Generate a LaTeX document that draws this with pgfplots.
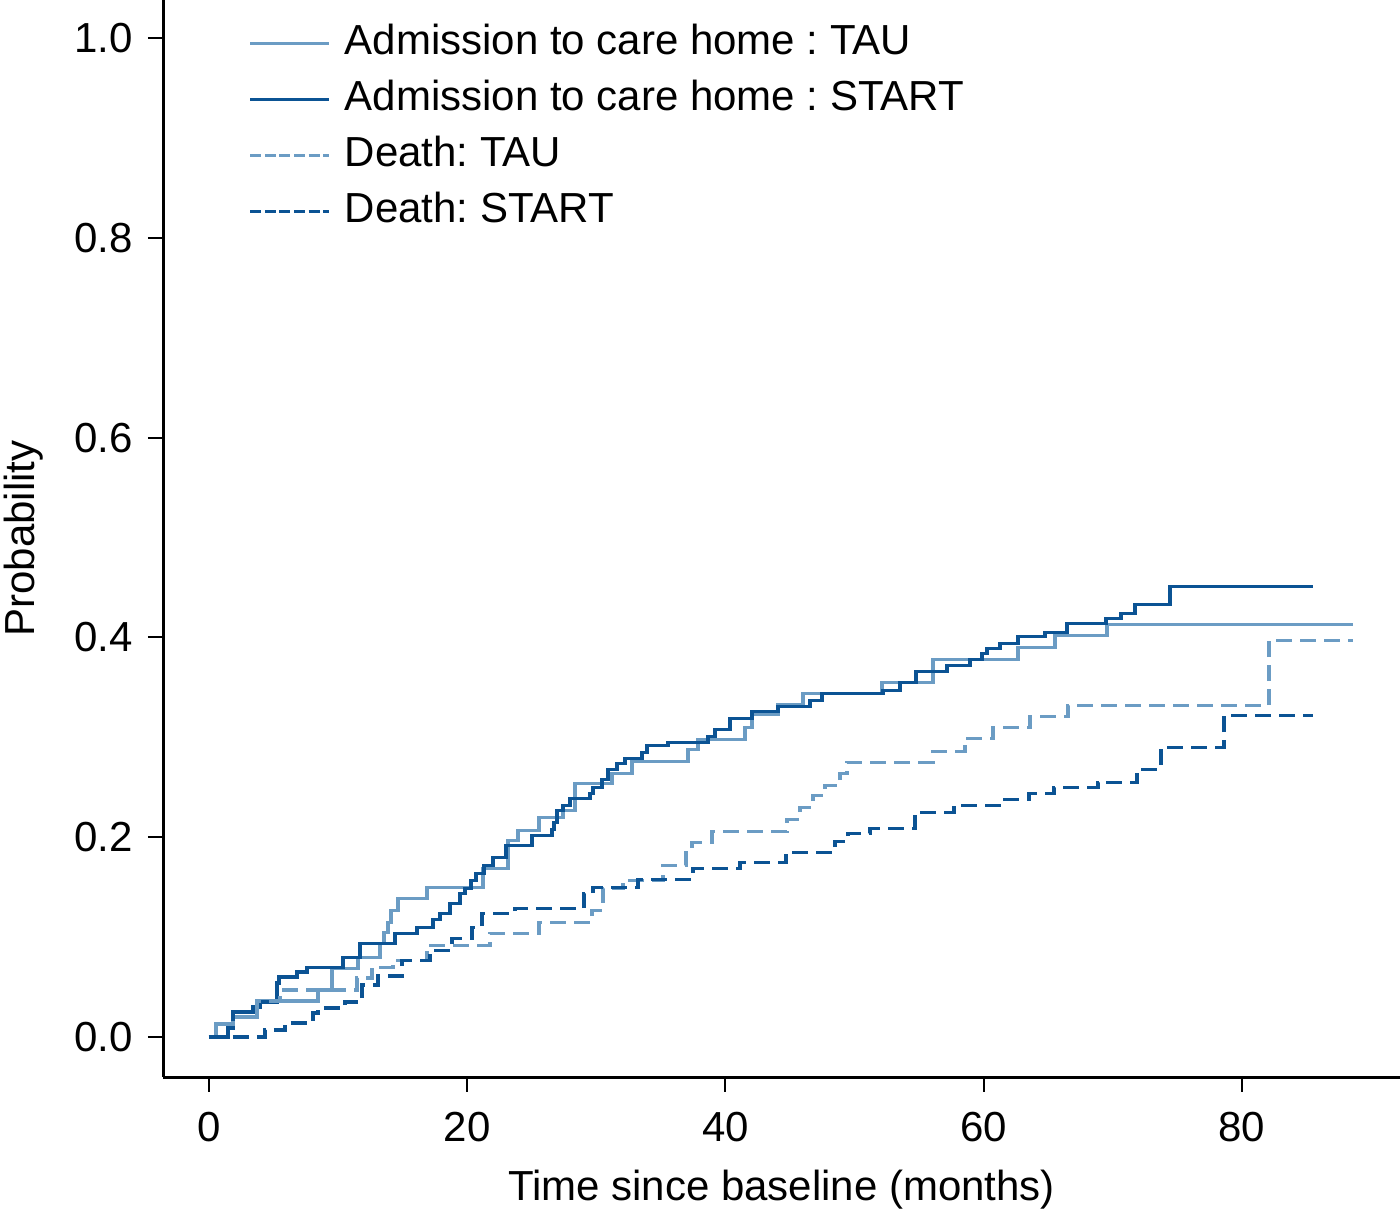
\documentclass[border=0pt]{standalone}
\usepackage{fontspec}
\setmainfont{Liberation Sans}
\usepackage{pgfplots}
\pgfplotsset{compat=1.18}
\definecolor{lightb}{RGB}{107,156,196}
\definecolor{darkb}{RGB}{11,83,148}
\newcommand{\ff}{\fontsize{21pt}{25pt}\selectfont}
\frenchspacing
\begin{document}
\begin{tikzpicture}
\begin{axis}[
  at={(0,0)}, anchor=south west,
  scale only axis,
  width=618.5pt, height=538.5pt,
  xmin=-3.56, xmax=92.24,
  ymin=-0.040, ymax=1.038,
  axis x line*=bottom, axis y line*=left,
  axis line style={line width=1.5pt, black},
  tick pos=left, tick align=outside,
  major tick length=7.5pt,
  tick style={line width=1pt, black},
  xtick={0,20,40,60,80},
  ytick={0,0.2,0.4,0.6,0.8,1.0},
  /pgf/number format/assume math mode=true,
  yticklabel style={/pgf/number format/fixed, /pgf/number format/fixed zerofill, /pgf/number format/precision=1, xshift=-3.5pt},
  xticklabel style={yshift=-6pt},
  tick label style={font=\ff},
  xlabel={Time since baseline (months)},
  ylabel={Probability},
  every axis x label/.style={at={(axis description cs:0.5,0)}, anchor=base, yshift=-61.5pt, font=\ff},
  every axis y label/.style={at={(axis description cs:0,0.5)}, xshift=-59pt, rotate=90, anchor=south, inner sep=0pt, font=\ff},
  legend style={at={(axis description cs:0,1)}, anchor=north west, xshift=42pt, yshift=-11.5pt,
    draw=none, fill=none, inner sep=0pt, font=\ff, row sep=9pt,
    nodes={inner sep=0pt, text height=15pt, text depth=4pt},
    /tikz/every odd column/.append style={column sep=7pt}},
  legend cell align=left,
  legend image code/.code={\draw[#1] (0pt,0pt) -- (39.5pt,0pt);},
  line width=1.6pt,
]
\addplot[const plot, lightb, solid] coordinates {(0,0)(0.54,0.013)(1.86,0.020)(3.72,0.036)(8.44,0.047)(9.53,0.069)(11.54,0.080)(13.24,0.094)(13.55,0.105)(13.86,0.115)(14.09,0.127)(14.64,0.139)(16.88,0.150)(21.22,0.169)(23.16,0.197)(23.93,0.207)(25.56,0.220)(27.42,0.227)(28.34,0.254)(31.21,0.264)(32.76,0.276)(37.10,0.288)(37.87,0.298)(41.51,0.310)(42.05,0.323)(44.07,0.333)(46.00,0.344)(52.12,0.355)(56.07,0.378)(62.65,0.390)(65.52,0.402)(69.54,0.413)(88.60,0.413)};
\addlegendentry{Admission to care home : TAU}
\addplot[const plot, darkb, solid] coordinates {(0,0)(1.47,0.009)(1.86,0.025)(3.41,0.030)(3.95,0.035)(5.27,0.054)(5.42,0.060)(6.81,0.065)(7.59,0.070)(10.38,0.080)(11.69,0.094)(14.40,0.104)(16.11,0.110)(17.35,0.118)(17.89,0.124)(18.66,0.134)(19.44,0.144)(19.83,0.149)(20.29,0.157)(20.68,0.164)(21.30,0.172)(21.99,0.180)(23.00,0.192)(25.01,0.202)(26.56,0.208)(26.72,0.215)(26.95,0.227)(27.42,0.232)(27.96,0.239)(29.51,0.244)(29.74,0.250)(30.44,0.258)(30.90,0.268)(31.60,0.274)(32.22,0.279)(33.53,0.285)(33.92,0.292)(35.55,0.295)(38.64,0.301)(39.19,0.308)(40.35,0.319)(42.05,0.326)(44.07,0.331)(46.54,0.337)(47.47,0.344)(52.20,0.347)(53.51,0.355)(54.75,0.366)(57.15,0.372)(58.94,0.378)(59.86,0.384)(60.25,0.389)(61.26,0.394)(62.65,0.401)(64.74,0.405)(66.45,0.414)(69.47,0.419)(70.63,0.424)(71.71,0.433)(74.42,0.451)(85.50,0.451)};
\addlegendentry{Admission to care home : START}
\addplot[const plot, lightb, dash pattern=on 8pt off 4pt, legend image post style={dash pattern=on 5.5pt off 1.8pt}] coordinates {(0,0)(0.54,0.013)(1.86,0.020)(3.72,0.036)(5.50,0.047)(11.46,0.059)(12.62,0.070)(14.25,0.077)(16.88,0.092)(21.76,0.104)(25.56,0.115)(29.66,0.127)(30.51,0.149)(32.06,0.157)(35.16,0.172)(36.94,0.185)(37.41,0.195)(38.95,0.206)(44.76,0.218)(45.77,0.230)(46.78,0.242)(47.71,0.252)(48.87,0.264)(49.41,0.275)(56.07,0.286)(58.55,0.299)(60.72,0.310)(63.58,0.321)(66.52,0.332)(82.09,0.397)(88.60,0.397)};
\addlegendentry{Death: TAU}
\addplot[const plot, darkb, dash pattern=on 8pt off 4pt, legend image post style={dash pattern=on 5.5pt off 1.8pt}] coordinates {(0,0)(4.34,0.007)(5.89,0.014)(8.05,0.024)(8.44,0.029)(10.53,0.035)(11.85,0.052)(13.09,0.061)(14.95,0.077)(17.12,0.087)(18.82,0.099)(20.37,0.110)(21.14,0.124)(23.70,0.129)(29.04,0.144)(29.74,0.150)(33.22,0.158)(37.48,0.169)(41.12,0.175)(44.69,0.185)(48.48,0.196)(49.49,0.204)(51.19,0.209)(54.68,0.225)(57.70,0.232)(61.65,0.238)(63.50,0.244)(65.44,0.250)(68.85,0.255)(71.87,0.268)(73.73,0.290)(78.61,0.322)(85.50,0.322)};
\addlegendentry{Death: START}
\end{axis}
\pgfresetboundingbox
\useasboundingbox (-81.5pt,-68pt) rectangle (618.5pt,538.5pt);
\end{tikzpicture}
\end{document}
